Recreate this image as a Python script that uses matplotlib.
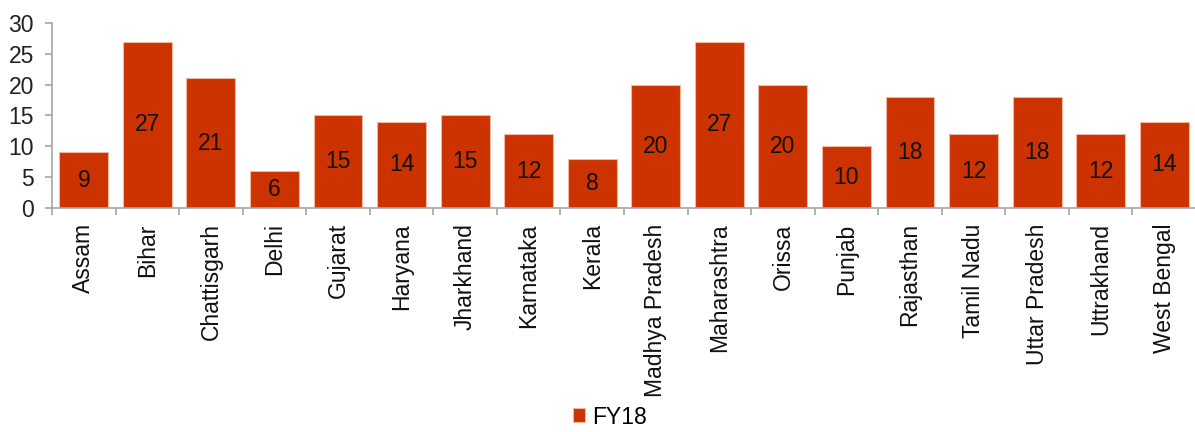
import matplotlib.pyplot as plt
import numpy as np

plt.rcParams['font.family'] = ['Liberation Sans', 'DejaVu Sans']

# Bundesstaaten und Werte FY18
states = ["Assam", "Bihar", "Chattisgarh", "Delhi", "Gujarat", "Haryana",
          "Jharkhand", "Karnataka", "Kerala", "Madhya Pradesh", "Maharashtra",
          "Orissa", "Punjab", "Rajasthan", "Tamil Nadu", "Uttar Pradesh",
          "Uttrakhand", "West Bengal"]
fy18 = [9, 27, 21, 6, 15, 14, 15, 12, 8, 20, 27, 20, 10, 18, 12, 18, 12, 14]

fig = plt.figure(figsize=(11.95, 4.32), dpi=100)
ax = fig.add_axes([52/1195, 1 - 208/432, 1144/1195, (208 - 23)/432])

x = np.arange(len(states))
bars = ax.bar(x, fy18, width=0.77, color="#CC3300", edgecolor="#F0B8A0",
              linewidth=0.8, label="FY18")

# Werte mittig in die Balken
for xi, v in zip(x, fy18):
    ax.text(xi, v / 2, str(v), ha="center", va="center", fontsize=16.5, color="#111111")

ax.set_xlim(-0.5, len(states) - 0.5)
ax.set_ylim(0, 30)
ax.set_yticks(np.arange(0, 31, 5))

# Achsen
for s in ["top", "right"]:
    ax.spines[s].set_visible(False)
for s in ["left", "bottom"]:
    ax.spines[s].set_color("#A6A6A6")
    ax.spines[s].set_linewidth(1.2)

ax.set_xticks(x)
ax.set_xticklabels(states, rotation=90, fontsize=16.5, color="#111111")
ax.tick_params(axis="x", length=0, pad=11)
ax.set_xticks(np.arange(-0.5, len(states), 1), minor=True)
ax.tick_params(axis="x", which="minor", length=5, color="#A6A6A6", width=1.2)
ax.tick_params(axis="y", labelsize=16.5, length=5, pad=8, color="#A6A6A6",
               width=1.2, labelcolor="#222222")

fig.legend(handles=[bars], labels=["FY18"], loc="center",
           bbox_to_anchor=(610/1195, 1 - 417/432), frameon=False, fontsize=16.5,
           handlelength=0.55, handleheight=0.55, handletextpad=0.3,
           borderpad=0, borderaxespad=0)

fig.savefig("out.png", dpi=100)
